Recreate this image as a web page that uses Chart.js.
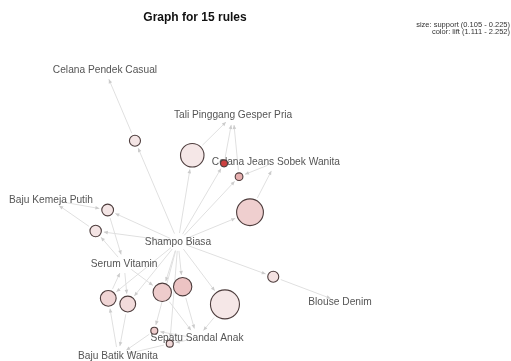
<!DOCTYPE html>
<html><head><meta charset="utf-8">
<script src="https://cdn.jsdelivr.net/npm/chart.js@4/dist/chart.umd.min.js"></script>
<style>html,body{margin:0;padding:0;background:#fff}</style>
</head><body>
<canvas id="c" width="511" height="361"></canvas>
<script>
// ---- data (graph layout in abstract layout units) ----
const chartTitle = "Graph for 15 rules";
const legendLines = ["size: support (0.105 - 0.225)", "color: lift (1.111 - 2.252)"];
const itemNames = ["Celana Pendek Casual", "Tali Pinggang Gesper Pria", "Celana Jeans Sobek Wanita",
  "Baju Kemeja Putih", "Shampo Biasa", "Serum Vitamin", "Blouse Denim", "Sepatu Sandal Anak", "Baju Batik Wanita"];
const itemX = [-0.567, 0.287, 0.573, -0.927, -0.080, -0.440, 1.000, 0.047, -0.480];
const itemY = [0.933, 0.633, 0.320, 0.067, -0.213, -0.360, -0.613, -0.855, -0.973];
const ruleX = [-0.367, 0.015, 0.227, 0.327, 0.400, -0.549, -0.629, 0.555, -0.545, -0.415, -0.185, -0.049, 0.233, -0.238, -0.135];
const ruleY = [0.462, 0.365, 0.311, 0.222, -0.015, 0.000, -0.140, -0.445, -0.589, -0.627, -0.549, -0.511, -0.629, -0.805, -0.891];
const ruleSupport = [0.127, 0.195, 0.105, 0.109, 0.213, 0.131, 0.129, 0.127, 0.153, 0.153, 0.167, 0.167, 0.225, 0.105, 0.105];
const ruleLift = [1.13, 1.12, 2.252, 1.50, 1.28, 1.13, 1.14, 1.15, 1.24, 1.20, 1.30, 1.36, 1.12, 1.30, 1.22];
const ruleLHS = [[4], [4], [4], [4, 2], [4], [4, 3], [4, 5], [4], [4, 8], [4, 5], [4, 5], [4], [4], [4, 7], [4, 7]];
const ruleRHS = [0, 1, 1, 1, 2, 5, 3, 6, 5, 8, 7, 7, 7, 8, 8];

// ---- styling helpers ----
const supMin = 0.105, supMax = 0.225, liftMin = 1.111, liftMax = 2.252;
function radiusFor(s) { return 3.5 + (s - supMin) / (supMax - supMin) * 11; }
function colorFor(l) {
  const t = Math.max(0, Math.min(1, (l - liftMin) / (liftMax - liftMin)));
  const lo = [245, 232, 232], hi = [204, 64, 64];
  const c = lo.map((v, i) => Math.round(v + (hi[i] - v) * t));
  return `rgb(${c[0]},${c[1]},${c[2]})`;
}

const bubbleData = ruleX.map((x, i) => ({ x: x, y: ruleY[i], r: radiusFor(ruleSupport[i]) }));

const graphPlugin = {
  id: 'graphPlugin',
  beforeDatasetsDraw(chart) {
    const ctx = chart.ctx, sx = chart.scales.x, sy = chart.scales.y;
    const P = (x, y) => [sx.getPixelForValue(x), sy.getPixelForValue(y)];
    function edge(a, sa, b, sb) {
      const dx = b[0] - a[0], dy = b[1] - a[1], L = Math.hypot(dx, dy);
      const ux = dx / L, uy = dy / L;
      const x1 = a[0] + ux * sa, y1 = a[1] + uy * sa, x2 = b[0] - ux * sb, y2 = b[1] - uy * sb;
      ctx.strokeStyle = '#e0e0e0'; ctx.lineWidth = 1;
      ctx.beginPath(); ctx.moveTo(x1, y1); ctx.lineTo(x2, y2); ctx.stroke();
      const al = 4, aw = 1.8;
      ctx.fillStyle = '#cccccc';
      ctx.beginPath();
      ctx.moveTo(x2, y2);
      ctx.lineTo(x2 - ux * al - uy * aw, y2 - uy * al + ux * aw);
      ctx.lineTo(x2 - ux * al + uy * aw, y2 - uy * al - ux * aw);
      ctx.closePath(); ctx.fill();
    }
    ctx.save();
    ruleX.forEach((rx, i) => {
      const rp = P(rx, ruleY[i]);
      const rr = radiusFor(ruleSupport[i]) + 2.5;
      ruleLHS[i].forEach(it => edge(P(itemX[it], itemY[it]), 9, rp, rr));
      const t = ruleRHS[i];
      edge(rp, rr, P(itemX[t], itemY[t]), 10);
    });
    // item labels
    ctx.font = '10.2px "Liberation Sans", Arial, sans-serif';
    ctx.fillStyle = '#555555';
    ctx.textAlign = 'center'; ctx.textBaseline = 'middle';
    itemNames.forEach((n, i) => { const p = P(itemX[i], itemY[i]); ctx.fillText(n, p[0], p[1]); });
    // title & legend note
    ctx.font = 'bold 12px "Liberation Sans", Arial, sans-serif';
    ctx.fillStyle = '#111111';
    ctx.fillText(chartTitle, 195, 18);
    ctx.font = '7.5px "Liberation Sans", Arial, sans-serif';
    ctx.fillStyle = '#333333';
    ctx.textAlign = 'right';
    legendLines.forEach((t, i) => ctx.fillText(t, 510, 25 + i * 7.3));
    ctx.restore();
  }
};

new Chart(document.getElementById('c'), {
  type: 'bubble',
  data: {
    datasets: [{
      data: bubbleData,
      backgroundColor: ruleLift.map(colorFor),
      borderColor: '#4d3d3d',
      borderWidth: 1.1,
      clip: false
    }]
  },
  options: {
    responsive: false,
    animation: false,
    devicePixelRatio: 1,
    layout: { padding: 0, autoPadding: false },
    scales: {
      x: { type: 'linear', min: -1.2667, max: 2.14, display: false },
      y: { type: 'linear', min: -1.0067, max: 1.4, display: false }
    },
    plugins: { legend: { display: false }, tooltip: { enabled: false }, title: { display: false } }
  },
  plugins: [graphPlugin]
});
</script>
</body></html>
